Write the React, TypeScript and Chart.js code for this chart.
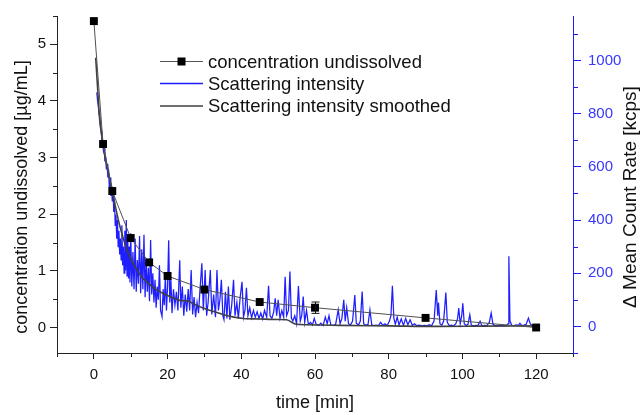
import React, { useEffect, useRef } from 'react';
import { Chart, registerables } from 'chart.js';

Chart.register(...registerables);

// ---- Data ----
const concTimes = [0, 2.5, 5, 10, 15, 20, 30, 45, 60, 90, 120];
const concValues = [5.41, 3.24, 2.41, 1.58, 1.15, 0.91, 0.67, 0.45, 0.35, 0.17, 0.0];
const concErrors = [0, 0, 0, 0, 0, 0, 0, 0, 0.1, 0, 0];

// Scattering intensity [time, kcps]
const scatterPoints: [number, number][] = [
  [0.8, 880], [1.0, 850], [1.2, 830], [1.4, 800], [1.6, 790], [1.8, 750], [2.0, 735], [2.2, 700],
  [2.4, 690], [2.6, 660], [2.8, 670], [3.0, 620], [3.2, 640], [3.4, 590], [3.6, 610], [3.8, 560],
  [4.0, 590], [4.2, 520], [4.4, 560], [4.6, 490], [4.8, 530], [5.0, 470], [5.2, 520], [5.4, 430],
  [5.6, 470], [5.8, 380], [6.0, 420], [6.2, 330], [6.4, 400], [6.6, 300], [6.8, 360], [7.0, 270],
  [7.2, 330], [7.4, 250], [7.6, 380], [7.8, 230], [8.0, 300], [8.2, 200], [8.4, 360], [8.6, 210],
  [8.8, 400], [9.0, 190], [9.2, 330], [9.4, 180], [9.6, 300], [9.8, 165], [10.0, 350], [10.3, 150],
  [10.6, 280], [10.9, 140], [11.2, 330], [11.5, 130], [11.8, 250], [12.1, 160], [12.4, 340], [12.7, 125],
  [13.0, 290], [13.3, 140], [13.6, 345], [13.9, 110], [14.2, 250], [14.5, 130], [14.8, 220], [15.1, 95],
  [15.4, 325], [15.7, 120], [16.0, 200], [16.3, 90], [16.6, 175], [16.9, 70], [17.2, 150], [17.5, 100],
  [17.8, 230], [18.1, 60], [18.5, 37], [18.8, 140], [19.1, 80], [19.4, 190], [19.7, 60], [20.0, 150],
  [20.3, 324], [20.6, 90], [20.9, 180], [21.2, 50], [21.6, 140], [22.0, 80], [22.4, 130], [22.8, 60],
  [23.3, 249], [23.6, 70], [24.0, 150], [24.4, 40], [24.8, 120], [25.2, 55], [25.6, 140], [26.0, 60],
  [26.4, 212], [26.8, 45], [27.2, 110], [27.6, 35], [28.0, 90], [28.4, 50], [28.8, 140], [29.3, 237],
  [29.7, 60], [30.2, 212], [30.6, 40], [31.0, 90], [31.6, 212], [32.0, 45], [32.5, 120], [33.0, 35],
  [33.4, 212], [33.8, 60], [34.2, 100], [34.6, 175], [35.0, 40], [35.3, 25], [35.7, 130], [36.1, 30],
  [36.5, 150], [36.9, 25], [37.4, 80], [37.9, 175], [38.3, 40], [38.8, 90], [39.2, 30], [39.7, 110],
  [40.2, 168], [40.6, 35], [41.0, 60], [41.4, 145], [41.8, 40], [42.3, 70], [42.8, 32], [43.3, 60],
  [43.8, 35], [44.3, 55], [44.8, 30], [45.3, 50], [45.8, 28], [46.3, 60], [46.9, 35], [47.4, 153],
  [47.8, 40], [48.3, 30], [48.8, 55], [49.2, 106], [49.6, 40], [50.0, 100], [50.5, 30], [51.0, 60],
  [51.5, 35], [51.9, 187], [52.3, 40], [52.8, 60], [53.2, 206], [53.6, 30], [54.0, 20], [54.5, 40],
  [55.0, 10], [55.5, 152], [56.0, 20], [56.4, 40], [56.8, 112], [57.2, 15], [57.7, 60], [58.2, 8],
  [58.8, 15], [59.3, 5], [59.8, 30], [60.3, 8], [61.0, 4], [61.6, 12], [62.2, 3], [62.8, 35],
  [63.3, 10], [63.8, 40], [64.3, 5], [65.0, 3], [65.6, 8], [66.3, 62], [66.8, 10], [67.3, 30],
  [67.8, 100], [68.2, 20], [68.6, 70], [69.1, 10], [69.6, 5], [70.2, 20], [70.8, 118], [71.2, 12],
  [71.8, 5], [72.3, 20], [72.8, 131], [73.2, 10], [73.8, 4], [74.4, 8], [74.9, 62], [75.4, 6],
  [76.0, 3], [76.6, 5], [77.2, 3], [77.8, 15], [78.4, 4], [79.0, 10], [79.6, 3], [80.2, 20],
  [80.6, 40], [81.0, 153], [81.4, 30], [81.8, 8], [82.3, 35], [82.8, 5], [83.4, 28], [84.0, 4],
  [84.6, 30], [85.2, 6], [85.8, 25], [86.4, 4], [87.0, 10], [87.6, 3], [88.3, 5], [89.0, 2],
  [89.7, 4], [90.4, 2], [91.0, 6], [91.6, 2], [92.3, 20], [92.9, 137], [93.3, 40], [93.5, 90],
  [93.9, 10], [94.4, 4], [94.9, 20], [95.5, 127], [95.9, 15], [96.4, 3], [97.0, 5], [97.6, 2],
  [98.2, 10], [98.7, 30], [99.0, 69], [99.4, 10], [99.8, 40], [100.1, 87], [100.5, 10], [101.0, 3],
  [101.5, 8], [102.0, 44], [102.4, 5], [103.0, 2], [103.6, 4], [104.2, 3], [104.8, 19], [105.3, 2],
  [106.0, 4], [106.6, 3], [107.3, 15], [107.8, 50], [108.3, 8], [108.9, 2], [109.5, 4], [110.1, 3],
  [110.7, 5], [111.3, 2], [112.0, 4], [112.4, 10], [112.6, 264], [112.9, 20], [113.4, 4], [114.0, 3],
  [114.6, 6], [115.2, 4], [115.6, 12], [116.1, 3], [116.7, 5], [117.3, 8], [117.9, 31], [118.4, 10],
  [118.9, 3], [119.5, 4], [120.0, 2],
];

// Scattering intensity smoothed [time, kcps]
const smoothPoints: [number, number][] = [
  [0.5, 1010], [1.0, 900], [1.5, 790], [2.0, 730], [2.5, 685], [3.0, 640], [4.0, 575], [5.0, 510],
  [6.0, 440], [7.0, 380], [8.0, 330], [9.0, 287], [10.0, 255], [11.0, 228], [12.0, 205], [13.0, 186],
  [14.5, 166], [16.0, 148], [18.0, 130], [20.0, 116], [22.0, 104], [23.5, 97], [25.3, 96], [27.0, 85],
  [29.8, 68], [32.5, 56], [35.2, 44], [38.0, 35], [40.6, 30], [45.0, 28], [50.0, 26], [52.3, 25],
  [54.6, 9], [58.0, 6], [66.8, 4], [80.0, 2], [93.8, 0], [105.0, 1], [120.0, 2],
];

const xRange = { min: -10, max: 130, minor: 10 };
const xTickValues = [0, 20, 40, 60, 80, 100, 120];
const yLeftRange = { min: -0.45, max: 5.5, minor: 0.5 };
const yLeftTickValues = [0, 1, 2, 3, 4, 5];
const yRightRange = { min: -100, max: 1167, minor: 100 };
const yRightTickValues = [0, 200, 400, 600, 800, 1000];

const legendLabels = ['concentration undissolved', 'Scattering intensity', 'Scattering intensity smoothed'];
const xTitle = 'time [min]';
const yLeftTitle = 'concentration undissolved [µg/mL]';
const yRightTitle = 'Δ Mean Count Rate [kcps]';

const FONT = "'Liberation Sans', Arial, Helvetica, sans-serif";
const BLUE = 'rgb(30,30,255)';
const BLUE_TXT = 'rgb(55,55,255)';

const setTicks = (vals: number[]) => (s: any) => {
  s.ticks = vals.map((value) => ({ value }));
};

const overlayPlugin = {
  id: 'overlay',
  afterDatasetsDraw(chart: any) {
    const ctx = chart.ctx;
    const xs = chart.scales.x;
    const yl = chart.scales.y;
    ctx.save();
    ctx.strokeStyle = '#111';
    ctx.lineWidth = 1;
    concTimes.forEach((t, i) => {
      const e = concErrors[i];
      if (!e) return;
      const px = Math.round(xs.getPixelForValue(t)) + 0.5;
      const top = yl.getPixelForValue(concValues[i] + e);
      const bot = yl.getPixelForValue(concValues[i] - e);
      ctx.beginPath();
      ctx.moveTo(px, top); ctx.lineTo(px, bot);
      ctx.moveTo(px - 4, top); ctx.lineTo(px + 4, top);
      ctx.moveTo(px - 4, bot); ctx.lineTo(px + 4, bot);
      ctx.stroke();
    });
    ctx.restore();
  },
  afterDraw(chart: any) {
    const ctx = chart.ctx;
    const xs = chart.scales.x;
    const yl = chart.scales.y;
    const yr = chart.scales.y1;
    const ca = chart.chartArea;
    ctx.save();
    ctx.lineWidth = 1;
    // minor ticks
    ctx.strokeStyle = '#222';
    ctx.beginPath();
    for (let v = xRange.min; v <= xRange.max + 1e-9; v += xRange.minor) {
      if (xTickValues.includes(v)) continue;
      const px = Math.round(xs.getPixelForValue(v)) + 0.5;
      ctx.moveTo(px, ca.bottom); ctx.lineTo(px, ca.bottom + 4);
    }
    for (let k = -1; k <= 11; k += 2) {
      const v = k * yLeftRange.minor;
      if (v < yLeftRange.min || v > yLeftRange.max + 1e-9) continue;
      const py = Math.round(yl.getPixelForValue(v)) + 0.5;
      ctx.moveTo(ca.left, py); ctx.lineTo(ca.left - 4, py);
    }
    ctx.stroke();
    ctx.strokeStyle = BLUE;
    ctx.beginPath();
    for (let v = yRightRange.min; v <= yRightRange.max; v += yRightRange.minor) {
      if (yRightTickValues.includes(v)) continue;
      const py = Math.round(yr.getPixelForValue(v)) + 0.5;
      ctx.moveTo(ca.right, py); ctx.lineTo(ca.right + 5, py);
    }
    ctx.stroke();

    // titles
    ctx.fillStyle = '#111';
    ctx.font = `18px ${FONT}`;
    ctx.textAlign = 'center';
    ctx.textBaseline = 'middle';
    ctx.fillText(xTitle, (ca.left + ca.right) / 2, 403);
    ctx.save();
    ctx.translate(22, 197);
    ctx.rotate(-Math.PI / 2);
    ctx.fillText(yLeftTitle, 0, 0);
    ctx.restore();
    ctx.save();
    ctx.translate(631, 197);
    ctx.rotate(-Math.PI / 2);
    ctx.font = `19px ${FONT}`;
    ctx.fillText(yRightTitle, 0, 0);
    ctx.restore();

    // legend
    const lx0 = 160, lx1 = 203, tx = 208;
    const rows = [61.5, 83.5, 106];
    ctx.textAlign = 'left';
    ctx.font = `18.5px ${FONT}`;
    ctx.lineWidth = 1;
    ctx.strokeStyle = '#555';
    ctx.beginPath(); ctx.moveTo(lx0, rows[0]); ctx.lineTo(lx1, rows[0]); ctx.stroke();
    ctx.fillStyle = '#000';
    ctx.fillRect((lx0 + lx1) / 2 - 4, rows[0] - 4, 8, 8);
    ctx.strokeStyle = BLUE;
    ctx.lineWidth = 1.3;
    ctx.beginPath(); ctx.moveTo(lx0, rows[1]); ctx.lineTo(lx1, rows[1]); ctx.stroke();
    ctx.strokeStyle = '#404040';
    ctx.lineWidth = 1.6;
    ctx.beginPath(); ctx.moveTo(lx0, rows[2]); ctx.lineTo(lx1, rows[2]); ctx.stroke();
    ctx.fillStyle = '#111';
    legendLabels.forEach((l, i) => ctx.fillText(l, tx, rows[i] + 1));
    ctx.restore();
  },
};

export default function App() {
  const ref = useRef<HTMLCanvasElement | null>(null);
  useEffect(() => {
    if (!ref.current) return;
    const chart = new Chart(ref.current, {
      type: 'line',
      data: {
        datasets: [
          {
            label: legendLabels[0],
            data: concTimes.map((t, i) => ({ x: t, y: concValues[i] })),
            yAxisID: 'y',
            borderColor: '#505050',
            borderWidth: 1,
            pointStyle: 'rect',
            pointRadius: 5.6,
            pointBackgroundColor: '#000',
            pointBorderColor: '#000',
            pointBorderWidth: 0,
            tension: 0,
          },
          {
            label: legendLabels[2],
            data: smoothPoints.map(([x, y]) => ({ x, y })),
            yAxisID: 'y1',
            borderColor: '#404040',
            borderWidth: 1.6,
            pointRadius: 0,
            cubicInterpolationMode: 'monotone',
          },
          {
            label: legendLabels[1],
            data: scatterPoints.map(([x, y]) => ({ x, y })),
            yAxisID: 'y1',
            borderColor: BLUE,
            borderWidth: 1.25,
            pointRadius: 0,
            tension: 0,
          },
        ],
      },
      options: {
        responsive: false,
        animation: false,
        devicePixelRatio: 1,
        layout: { padding: { top: 14, left: 0, right: 0, bottom: 0 } },
        plugins: { legend: { display: false }, tooltip: { enabled: false } },
        scales: {
          x: {
            type: 'linear',
            min: xRange.min,
            max: xRange.max,
            afterFit: (s: any) => { s.height = 62; },
            afterBuildTicks: setTicks(xTickValues),
            ticks: { color: '#111', font: { size: 15, family: FONT }, padding: 7, maxRotation: 0, autoSkip: false, callback: (v: any) => String(v) },
            grid: { drawOnChartArea: false, drawTicks: true, tickLength: 6, color: '#222' },
            border: { display: true, color: '#222', width: 1 },
          },
          y: {
            type: 'linear',
            position: 'left',
            min: yLeftRange.min,
            max: yLeftRange.max,
            afterFit: (s: any) => { s.width = 57; },
            afterBuildTicks: setTicks(yLeftTickValues),
            ticks: { color: '#111', font: { size: 15, family: FONT }, padding: 4, autoSkip: false, callback: (v: any) => String(v) },
            grid: { drawOnChartArea: false, drawTicks: true, tickLength: 7, color: '#222' },
            border: { display: true, color: '#222', width: 1 },
          },
          y1: {
            type: 'linear',
            position: 'right',
            min: yRightRange.min,
            max: yRightRange.max,
            afterFit: (s: any) => { s.width = 68; },
            afterBuildTicks: setTicks(yRightTickValues),
            ticks: { color: BLUE_TXT, font: { size: 15, family: FONT }, padding: 7, autoSkip: false, callback: (v: any) => String(v) },
            grid: { drawOnChartArea: false, drawTicks: true, tickLength: 8, color: BLUE },
            border: { display: true, color: BLUE, width: 1 },
          },
        },
      },
      plugins: [overlayPlugin],
    } as any);
    return () => chart.destroy();
  }, []);
  return (
    <div style={{ position: 'absolute', left: 0, top: 0, width: 641, height: 415, background: '#fff' }}>
      <canvas ref={ref} width={641} height={415} style={{ display: 'block' }} />
    </div>
  );
}
